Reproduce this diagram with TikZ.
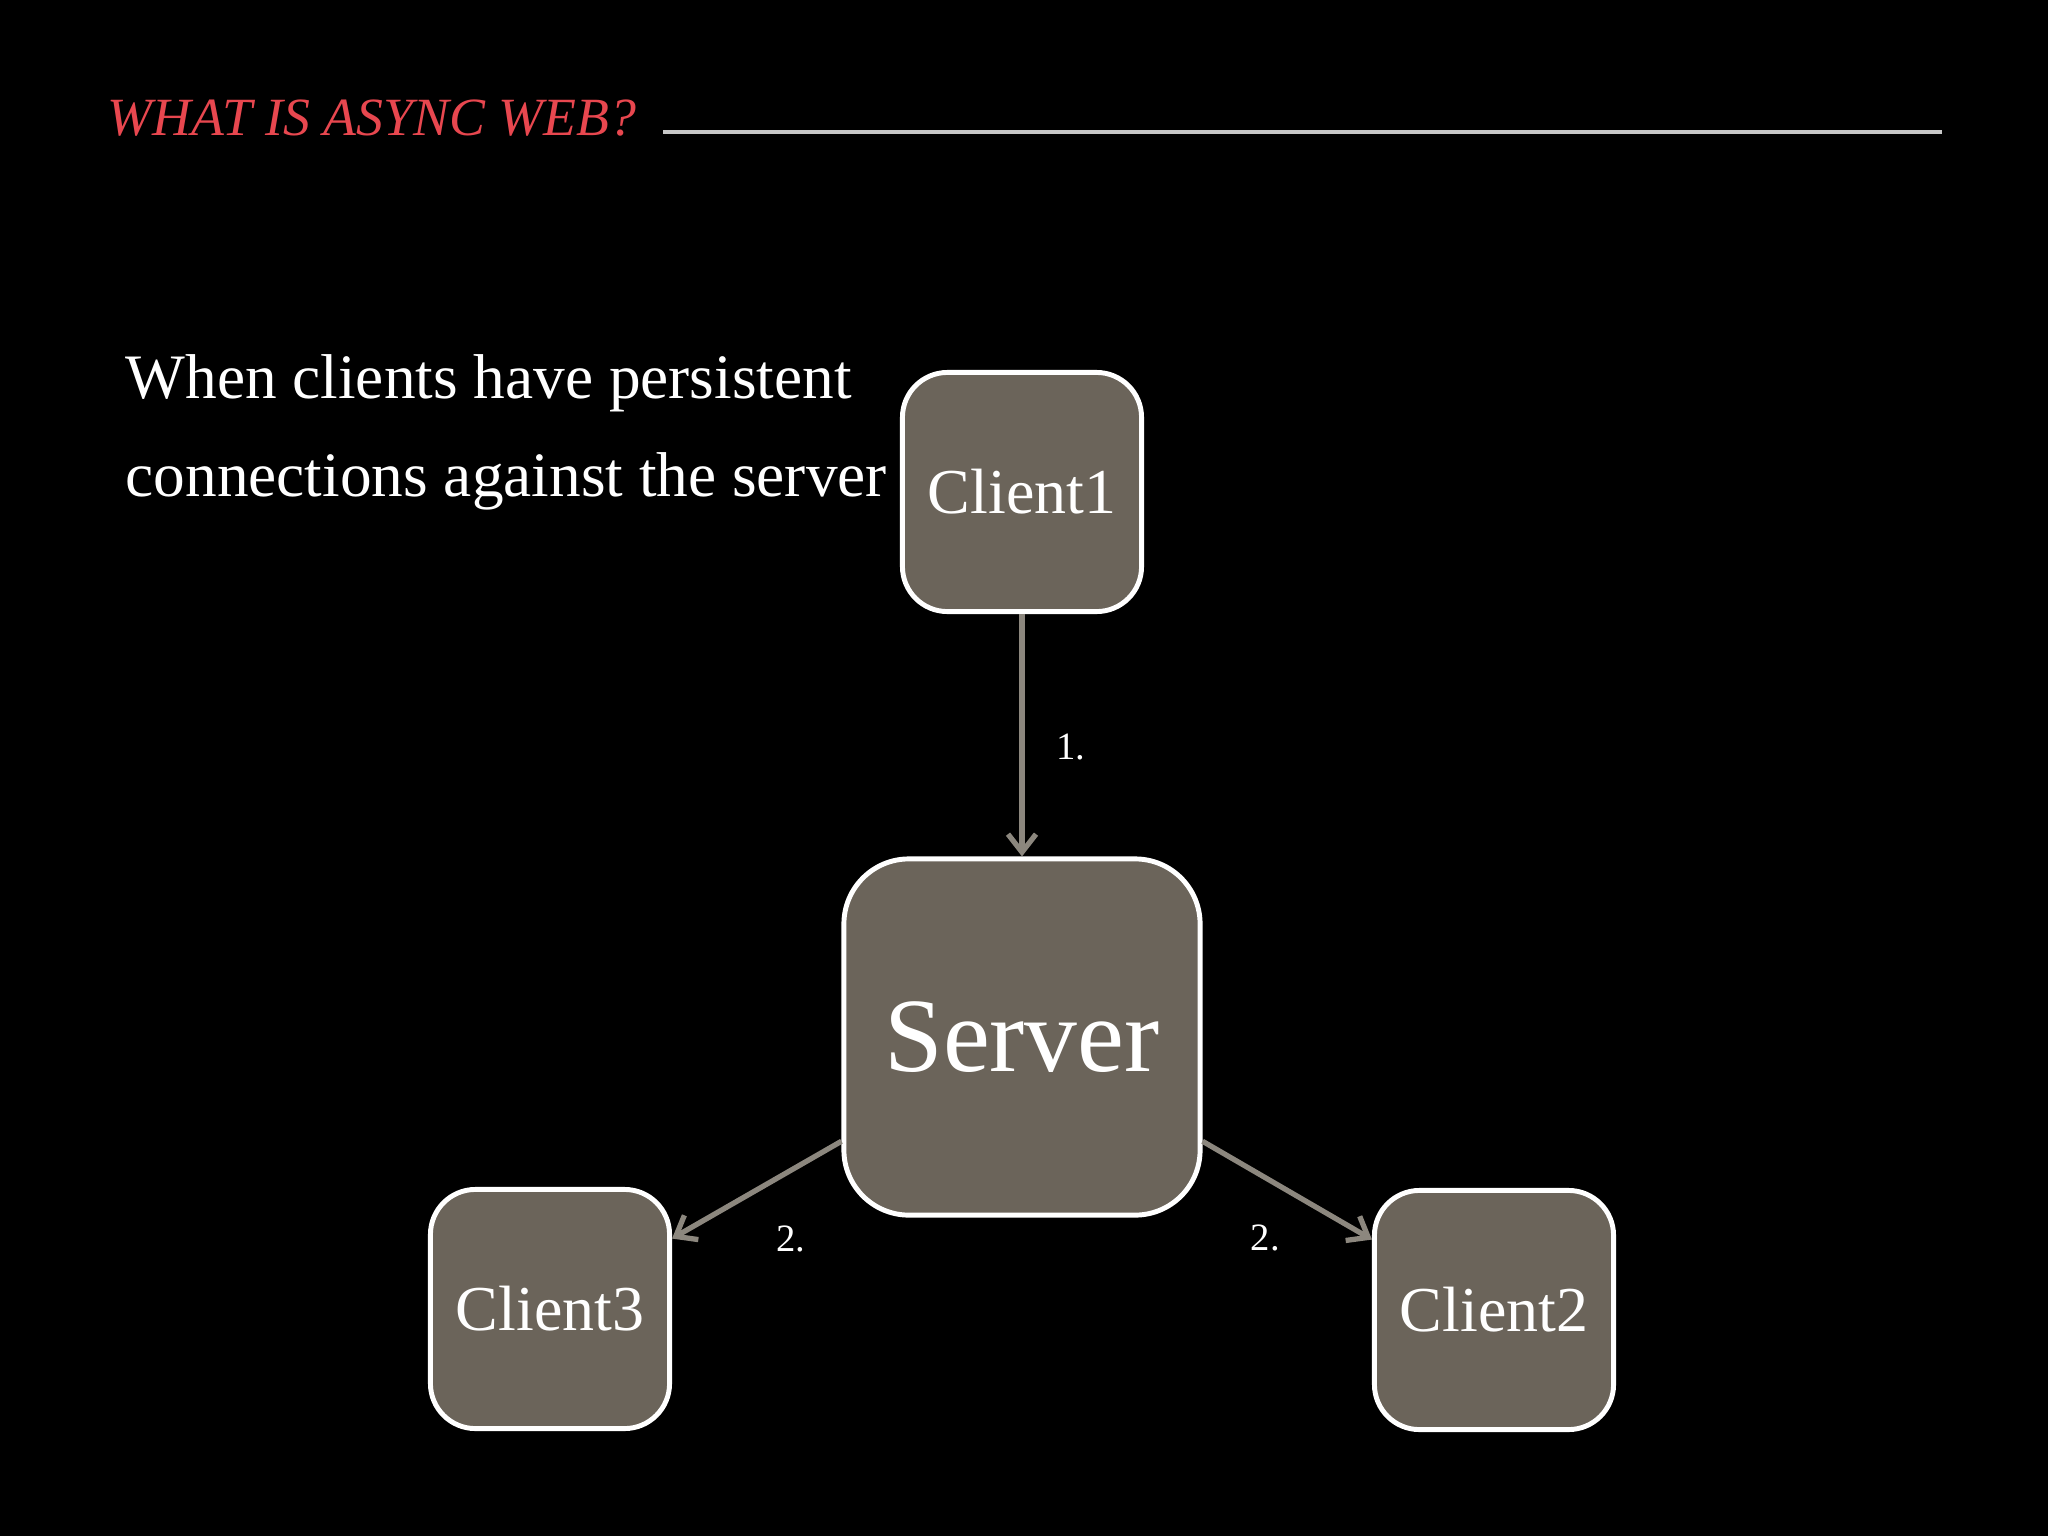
\documentclass[tikz,border=0pt]{standalone}
\usepackage{fontspec}
\setmainfont{Liberation Serif}
\usepackage{tikz}
\usetikzlibrary{arrows.meta, positioning}
\definecolor{boxgray}{HTML}{6B645A}
\definecolor{linkgray}{HTML}{8C877E}
\definecolor{titlered}{HTML}{E8474F}
\definecolor{rulegray}{HTML}{C8C8C8}

\begin{document}
\begin{tikzpicture}
  [
    x=0.01cm, y=-0.01cm,
    Client/.style={rectangle, rounded corners=4.5mm, draw=white, fill=boxgray, line width=1.4pt, minimum size=2.39cm, text=white, font=\fontsize{18.2}{22}\selectfont},
    Server/.style={rectangle, rounded corners=6.5mm, draw=white, fill=boxgray, line width=1.4pt, minimum size=3.56cm, text=white, font=\fontsize{30}{36}\selectfont},
    Link/.style={-{Straight Barb[length=1.8mm, width=2.8mm]}, draw=linkgray, line width=1.5pt},
    Step/.style={text=white, font=\fontsize{11}{13}\selectfont},
    Body/.style={anchor=base west, text=white, font=\fontsize{18}{22}\selectfont}
  ]
  \fill[black] (0,0) rectangle (2048,1536);

  % Title
  \node[anchor=base west, inner sep=0pt, text=titlered, font=\fontsize{15.3}{18}\selectfont\itshape] (title) at (107,135) {WHAT IS ASYNC WEB?};
  \coordinate (rulestart) at (663,132);
  \coordinate (ruleend) at (1942,132);
  \draw[rulegray, line width=0.9pt] (rulestart) -- (ruleend);

  % Text
  \node[Body, inner sep=0pt] (line1) at (125,398) {When clients have persistent};
  \node[Body, inner sep=0pt] (line2) at (125,496) {connections against the server};

  % Nodes
  \node[Client] (c1) at (1022,492) {Client1};
  \node[Server] (srv) at (1022,1037) {Server};
  \node[Client] (c2) at (1494,1310) {Client2};
  \node[Client] (c3) at (550,1309) {Client3};

  % Lines
  \path [Link] (c1) -- node[Step, right=2mm, pos=0.55] {1.} (srv);
  \path [Link] (srv.-30) -- node[Step, below=3.3mm, pos=0.37] {2.} (c2.150);
  \path [Link] (srv.-150) -- node[Step, below=4.1mm, pos=0.3] {2.} (c3.30);

\end{tikzpicture}
\end{document}
